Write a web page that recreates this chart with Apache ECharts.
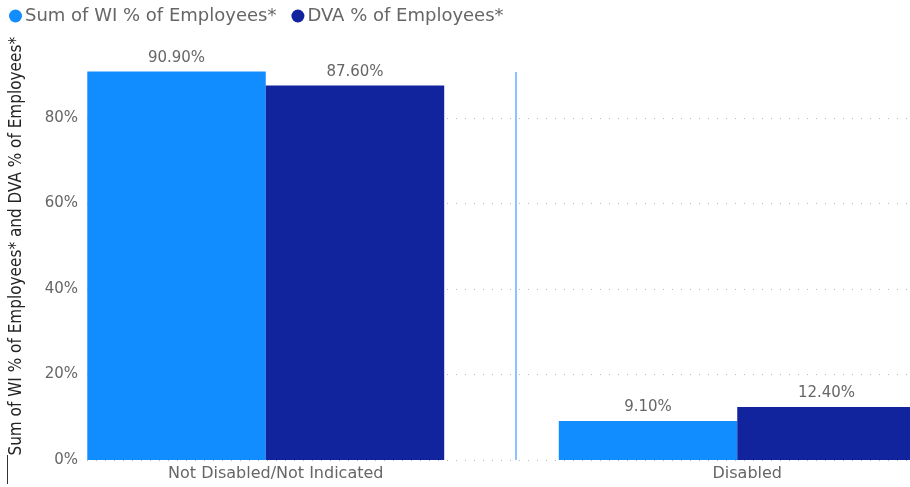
<!DOCTYPE html>
<html>
<head>
<meta charset="utf-8">
<script src="https://cdn.jsdelivr.net/npm/echarts@6/dist/echarts.min.js"></script>
<style>
  html, body { margin: 0; padding: 0; background: #fff; }
  #chart { width: 910px; height: 487px; }
</style>
</head>
<body>
<div id="chart"></div>
<script>
// Disability status breakdown: WI vs DVA share of employees
const categories = ['Not Disabled/Not Indicated', 'Disabled'];
const wiValues = [90.9, 9.1];
const dvaValues = [87.6, 12.4];
const seriesNames = ['Sum of WI % of Employees*', 'DVA % of Employees*'];
const yTickLabels = ['0%', '20%', '40%', '60%', '80%'];

const FONT = '"DejaVu Sans", "Noto Sans", sans-serif';
const TEXT_GREY = '#666666';
const yMax = 100;

const chart = echarts.init(document.getElementById('chart'));

const barLabel = {
  show: true,
  position: 'top',
  distance: 6,
  color: TEXT_GREY,
  fontFamily: FONT,
  fontSize: 15,
  formatter: p => p.value.toFixed(2) + '%'
};

chart.setOption({
  animation: false,
  textStyle: { fontFamily: FONT },
  legend: {
    left: 4,
    top: 2,
    icon: 'circle',
    itemWidth: 13,
    itemHeight: 13,
    itemGap: 15,
    textStyle: { color: TEXT_GREY, fontSize: 18, fontFamily: FONT, padding: [0, 0, 0, -2] },
    data: seriesNames
  },
  grid: [
    // bar grid: bands run past the right edge so groups sit flush with the plot sides
    { left: 30, top: 32.5, bottom: 27, right: -63, outerBoundsMode: 'none', containLabel: false },
    // value-scale grid carrying tick labels and dotted gridlines
    { left: 87, top: 32.5, bottom: 27, right: 0, outerBoundsMode: 'none', containLabel: false }
  ],
  xAxis: [
    {
      type: 'category',
      gridIndex: 0,
      data: categories,
      axisLine: { show: false },
      axisTick: { show: false },
      axisLabel: {
        color: TEXT_GREY,
        fontSize: 16,
        fontFamily: FONT,
        margin: 6,
        padding: [0, 0, 0, 20]
      }
    },
    { type: 'value', gridIndex: 1, show: false }
  ],
  yAxis: [
    {
      type: 'value',
      gridIndex: 0,
      min: 0,
      max: yMax,
      show: false
    },
    {
      type: 'value',
      gridIndex: 1,
      min: 0,
      max: yMax,
      interval: 20,
      name: 'Sum of WI % of Employees* and DVA % of Employees*',
      nameLocation: 'middle',
      nameGap: 62,
      nameTextStyle: {
        color: '#252423',
        fontSize: 17,
        fontFamily: '"DejaVu Sans Condensed", "Liberation Sans Narrow", sans-serif'
      },
      axisLine: { show: false },
      axisTick: { show: false },
      axisLabel: {
        color: TEXT_GREY,
        fontSize: 15,
        fontFamily: FONT,
        margin: 9,
        showMaxLabel: false,
        formatter: v => yTickLabels[v / 20] || ''
      },
      splitLine: {
        show: true,
        showMaxLine: false,
        lineStyle: { color: '#b8b8b8', type: [1, 8], width: 1 }
      }
    }
  ],
  series: [
    {
      name: seriesNames[0],
      type: 'bar',
      xAxisIndex: 0,
      yAxisIndex: 0,
      data: wiValues,
      barGap: '0%',
      barCategoryGap: '24.3%',
      itemStyle: { color: '#118DFF' },
      label: barLabel
    },
    {
      name: seriesNames[1],
      type: 'bar',
      xAxisIndex: 0,
      yAxisIndex: 0,
      data: dvaValues,
      barGap: '0%',
      barCategoryGap: '24.3%',
      itemStyle: { color: '#12239E' },
      label: barLabel
    }
  ],
  graphic: [
    // separator between the two category groups
    {
      type: 'line',
      shape: { x1: 516, y1: 72, x2: 516, y2: 460 },
      style: { stroke: '#8DC3FF', lineWidth: 2 }
    },
    {
      type: 'line',
      shape: { x1: 7.5, y1: 455, x2: 7.5, y2: 484 },
      style: { stroke: '#333333', lineWidth: 1 }
    }
  ]
});
</script>
</body>
</html>
